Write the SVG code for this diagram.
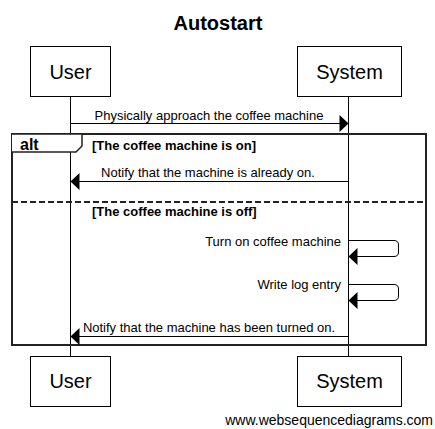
<svg xmlns="http://www.w3.org/2000/svg" width="435" height="429" viewBox="0 0 435 429">
<defs>
<style>
text{font-family:"Liberation Sans",Arial,sans-serif;fill:#000}
.box{fill:#fff;stroke:#000;stroke-width:1}
.pt{font-size:20px;text-anchor:middle}
.msg{font-size:13px}
.mid{text-anchor:middle}
.end{text-anchor:end}
.guard{font-size:13px;font-weight:bold}
.life{stroke:#000;stroke-width:1}
.line{stroke:#000;stroke-width:1;fill:none}
.head{fill:#000}
</style>
</defs>
<rect width="435" height="429" fill="#fff"/>
<text x="218" y="30" font-size="20" font-weight="bold" text-anchor="middle">Autostart</text>
<g id="lifelines">
<line class="life" x1="70.5" y1="97" x2="70.5" y2="356"/>
<line class="life" x1="348.5" y1="97" x2="348.5" y2="356"/>
</g>
<g id="alt-frame">
<rect x="12" y="134" width="414" height="211" fill="none" stroke="#222" stroke-width="2"/>
<path d="M12,134 H82 V146 L76,152 H12" fill="#fff" stroke="#222" stroke-width="1.5"/>
<text x="20" y="150" font-size="16" font-weight="bold">alt</text>
<text class="guard" x="92" y="150">[The coffee machine is on]</text>
<line x1="12" y1="202" x2="426" y2="202" stroke="#222" stroke-width="2" stroke-dasharray="6 3"/>
<text class="guard" x="92" y="216">[The coffee machine is off]</text>
</g>
<g id="connectors">
<g id="m1">
<line class="line" x1="70" y1="123.5" x2="340" y2="123.5"/>
<polygon class="head" points="348.5,123.5 339.5,115 339.5,132"/>
<text class="msg mid" x="209" y="120">Physically approach the coffee machine</text>
</g>
<g id="m2">
<line class="line" x1="348" y1="181.5" x2="79" y2="181.5"/>
<polygon class="head" points="70.5,181.5 79.5,173 79.5,190"/>
<text class="msg mid" x="208" y="177">Notify that the machine is already on.</text>
</g>
<g id="m3">
<path class="line" d="M348.5,240.5 H394 Q398.5,240.5 398.5,245 V252 Q398.5,256.5 394,256.5 H357"/>
<polygon class="head" points="348.5,256.5 357.5,248 357.5,265"/>
<text class="msg end" x="341" y="246">Turn on coffee machine</text>
</g>
<g id="m4">
<path class="line" d="M348.5,284.5 H394 Q398.5,284.5 398.5,289 V296 Q398.5,300.5 394,300.5 H357"/>
<polygon class="head" points="348.5,300.5 357.5,292 357.5,309"/>
<text class="msg end" x="341" y="289">Write log entry</text>
</g>
<g id="m5">
<line class="line" x1="348" y1="336.5" x2="79" y2="336.5"/>
<polygon class="head" points="70.5,336.5 79.5,328 79.5,345"/>
<text class="msg mid" x="209" y="332">Notify that the machine has been turned on.</text>
</g>
</g>
<g id="user-top"><rect class="box" x="30.5" y="46.5" width="80" height="50"/><text class="pt" x="70.5" y="78.5">User</text></g>
<g id="system-top"><rect class="box" x="297.5" y="46.5" width="104" height="50"/><text class="pt" x="349.5" y="78.5">System</text></g>
<g id="user-bottom"><rect class="box" x="30.5" y="356.5" width="80" height="50"/><text class="pt" x="70.5" y="388">User</text></g>
<g id="system-bottom"><rect class="box" x="297.5" y="356.5" width="104" height="50"/><text class="pt" x="349.5" y="388">System</text></g>
<text x="433" y="425" font-size="14" text-anchor="end">www.websequencediagrams.com</text>
</svg>
